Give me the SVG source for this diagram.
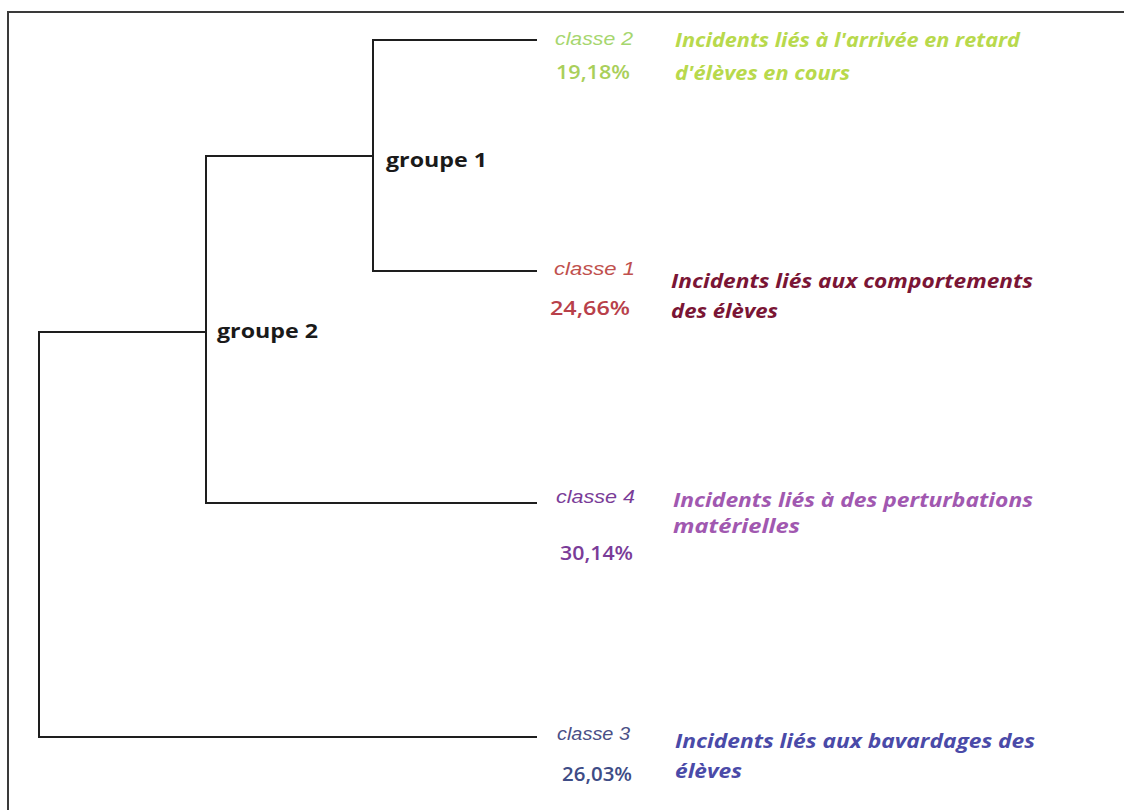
<svg xmlns="http://www.w3.org/2000/svg" width="1124" height="810" viewBox="0 0 1124 810">
<style>
.frame{fill:none;stroke:#3a3a3a;stroke-width:2}
.link{fill:none;stroke:#1e1e1e;stroke-width:2}
.cls{font-family:"Liberation Sans",Arial,sans-serif;font-style:italic;font-size:19px}
.pct{font-family:"Open Sans","Liberation Sans",sans-serif;font-weight:600;font-size:19px}
.desc{font-family:"Open Sans","Liberation Sans",sans-serif;font-weight:700;font-style:italic;font-size:20px}
.grp{font-family:"Open Sans","Liberation Sans",sans-serif;font-weight:700;font-size:20px;fill:#1a1a1a}
</style>
<rect width="1124" height="810" fill="#fff"/>
<path class="frame" d="M8,810 V12 H1124"/>
<g id="connectors">
<path class="link" d="M537,40 H373 V271 H537"/>
<path class="link" d="M373,156 H206 V503 H537"/>
<path class="link" d="M206,332 H39 V737 H537"/>
</g>
<g id="groupe1"><text class="grp" x="386" y="167" textLength="101" lengthAdjust="spacingAndGlyphs">groupe 1</text></g>
<g id="groupe2"><text class="grp" x="217" y="338" textLength="101" lengthAdjust="spacingAndGlyphs">groupe 2</text></g>
<g id="classe2">
<text class="cls" x="555" y="45" fill="#a6d66e" textLength="78" lengthAdjust="spacingAndGlyphs">classe  2</text>
<text class="pct" x="556" y="79" fill="#a9cf5a" textLength="74" lengthAdjust="spacingAndGlyphs">19,18%</text>
<text class="desc" x="675" y="47" fill="#b8d94c" textLength="345" lengthAdjust="spacingAndGlyphs">Incidents liés à l'arrivée en retard</text>
<text class="desc" x="675" y="80" fill="#b8d94c" textLength="175" lengthAdjust="spacingAndGlyphs">d'élèves en cours</text>
</g>
<g id="classe1">
<text class="cls" x="554" y="275" fill="#c0504d" textLength="81" lengthAdjust="spacingAndGlyphs">classe  1</text>
<text class="pct" x="550" y="315" fill="#b8404a" textLength="80" lengthAdjust="spacingAndGlyphs">24,66%</text>
<text class="desc" x="671" y="288" fill="#7a1535" textLength="362" lengthAdjust="spacingAndGlyphs">Incidents liés aux comportements</text>
<text class="desc" x="671" y="318" fill="#7a1535" textLength="107" lengthAdjust="spacingAndGlyphs">des élèves</text>
</g>
<g id="classe4">
<text class="cls" x="556" y="503" fill="#7a3c98" textLength="79" lengthAdjust="spacingAndGlyphs">classe  4</text>
<text class="pct" x="560" y="560" fill="#7a3c98" textLength="73" lengthAdjust="spacingAndGlyphs">30,14%</text>
<text class="desc" x="673" y="507" fill="#a158b0" textLength="360" lengthAdjust="spacingAndGlyphs">Incidents liés à des perturbations</text>
<text class="desc" x="673" y="533" fill="#a158b0" textLength="127" lengthAdjust="spacingAndGlyphs">matérielles</text>
</g>
<g id="classe3">
<text class="cls" x="557" y="740" fill="#4a4f86" textLength="73" lengthAdjust="spacingAndGlyphs">classe 3</text>
<text class="pct" x="562" y="781" fill="#3e4c86" textLength="70" lengthAdjust="spacingAndGlyphs">26,03%</text>
<text class="desc" x="675" y="748" fill="#4a4aa8" textLength="360" lengthAdjust="spacingAndGlyphs">Incidents liés aux bavardages des</text>
<text class="desc" x="675" y="778" fill="#4a4aa8" textLength="67" lengthAdjust="spacingAndGlyphs">élèves</text>
</g>
</svg>
